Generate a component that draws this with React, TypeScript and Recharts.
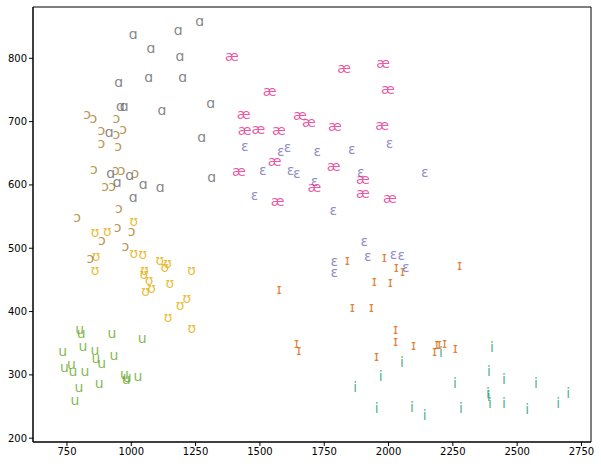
import { ScatterChart, Scatter, XAxis, YAxis, ReferenceArea } from 'recharts'

// F2 / F1 formant measurements (Hz), one pair of arrays per vowel
const iF2 = [2402, 2204, 2390, 2258, 2449, 2573, 2698, 2386, 2389, 2394, 2449, 2539, 2659, 2281, 2141, 1870, 1970, 1954, 2052, 2091]
const iF1 = [342, 335, 304, 286, 291, 286, 270, 269, 264, 254, 253, 244, 253, 245, 234, 279, 296, 246, 318, 247]

const ihF2 = [1575, 1643, 1651, 1840, 1984, 2030, 2055, 1945, 2007, 1859, 1933, 2027, 2027, 1954, 2097, 2179, 2188, 2198, 2218, 2260, 2276]
const ihF1 = [433, 349, 337, 480, 484, 469, 462, 446, 444, 406, 406, 371, 352, 328, 346, 336, 347, 347, 348, 341, 472]

const ehF2 = [1441, 1581, 1607, 1723, 1857, 2004, 1511, 1619, 1643, 1892, 2141, 1712, 1479, 1785, 1906, 1789, 1789, 1919, 2019, 2050, 2067]
const ehF1 = [660, 652, 658, 652, 655, 664, 622, 621, 617, 618, 618, 605, 582, 558, 509, 478, 461, 486, 489, 487, 468]

const aeF2 = [1391, 1827, 1979, 1538, 1997, 1437, 1655, 1690, 1441, 1494, 1574, 1791, 1975, 1557, 1418, 1787, 1900, 1712, 1900, 2005, 1569]
const aeF1 = [802, 783, 791, 746, 750, 710, 709, 697, 685, 686, 685, 691, 693, 636, 620, 628, 607, 595, 585, 578, 573]

const uwF2 = [799, 805, 925, 1042, 733, 812, 859, 933, 863, 885, 767, 740, 773, 820, 973, 984, 980, 1026, 875, 797, 781]
const uwF1 = [370, 364, 365, 357, 336, 343, 337, 329, 325, 317, 315, 310, 304, 304, 299, 295, 291, 297, 285, 279, 258]

const uhF2 = [1010, 859, 907, 1010, 1045, 863, 859, 1111, 1141, 1130, 1234, 1052, 1049, 1069, 1079, 1056, 1150, 1216, 1190, 1143, 1235]
const uhF1 = [541, 524, 526, 491, 489, 486, 463, 479, 475, 469, 463, 464, 457, 448, 435, 430, 443, 420, 409, 390, 372]

const aoF2 = [828, 853, 942, 884, 968, 942, 884, 949, 855, 940, 962, 1016, 898, 925, 952, 789, 947, 1001, 886, 977, 841]
const aoF1 = [710, 704, 704, 685, 687, 679, 664, 659, 624, 621, 622, 617, 597, 597, 562, 547, 531, 525, 511, 501, 482]

const aaF2 = [1266, 1007, 1182, 1076, 1189, 951, 1068, 1200, 958, 972, 1119, 1309, 914, 1274, 920, 945, 994, 1046, 1112, 1313, 1007]
const aaF1 = [857, 836, 843, 814, 802, 761, 768, 768, 723, 723, 716, 728, 682, 673, 617, 602, 614, 599, 595, 610, 579]

const xTicks = [750, 1000, 1250, 1500, 1750, 2000, 2250, 2500, 2750]
const yTicks = [200, 300, 400, 500, 600, 700, 800]
const X_DOMAIN: [number, number] = [618, 2787]
const Y_DOMAIN: [number, number] = [194, 881]

const vowels = [
  { symbol: 'i', color: '#1b9e77', f2: iF2, f1: iF1 },
  { symbol: 'ɪ', color: '#d95f02', f2: ihF2, f1: ihF1 },
  { symbol: 'ɛ', color: '#7570b3', f2: ehF2, f1: ehF1 },
  { symbol: 'æ', color: '#e7298a', f2: aeF2, f1: aeF1 },
  { symbol: 'u', color: '#66a61e', f2: uwF2, f1: uwF1 },
  { symbol: 'ʊ', color: '#e6ab02', f2: uhF2, f1: uhF1 },
  { symbol: 'ɔ', color: '#a6761d', f2: aoF2, f1: aoF1 },
  { symbol: 'ɑ', color: '#666666', f2: aaF2, f1: aaF1 },
]

const FONT = '"DejaVu Sans", sans-serif'

function glyph(symbol: string, color: string) {
  return (props: any) => (
    <text
      x={props.cx}
      y={props.cy}
      dy="0.27em"
      textAnchor="middle"
      fontSize={14}
      fontFamily={FONT}
      fill={color}
      fillOpacity={0.8}
    >
      {symbol}
    </text>
  )
}

export default function App() {
  const tick = { fontSize: 10, fill: '#000', fontFamily: FONT }
  return (
    <div style={{ position: 'absolute', left: 0, top: 0, background: '#fff' }}>
      <ScatterChart width={601} height={466} margin={{ top: 7, right: 10, bottom: 0, left: 0 }}>
        <XAxis
          type="number"
          dataKey="f2"
          domain={X_DOMAIN}
          ticks={xTicks}
          allowDataOverflow
          height={24}
          tick={tick}
          tickSize={4}
          tickMargin={2}
          stroke="#000"
        />
        <YAxis
          type="number"
          dataKey="f1"
          domain={Y_DOMAIN}
          ticks={yTicks}
          allowDataOverflow
          width={33}
          tick={tick}
          tickSize={4}
          tickMargin={2}
          stroke="#000"
        />
        <ReferenceArea
          x1={X_DOMAIN[0]}
          x2={X_DOMAIN[1]}
          y1={Y_DOMAIN[0]}
          y2={Y_DOMAIN[1]}
          fill="none"
          stroke="#000"
          strokeWidth={1}
          ifOverflow="visible"
        />
        {vowels.map((v) => (
          <Scatter
            key={v.symbol}
            data={v.f2.map((x, k) => ({ f2: x, f1: v.f1[k] }))}
            shape={glyph(v.symbol, v.color)}
            isAnimationActive={false}
          />
        ))}
      </ScatterChart>
    </div>
  )
}
